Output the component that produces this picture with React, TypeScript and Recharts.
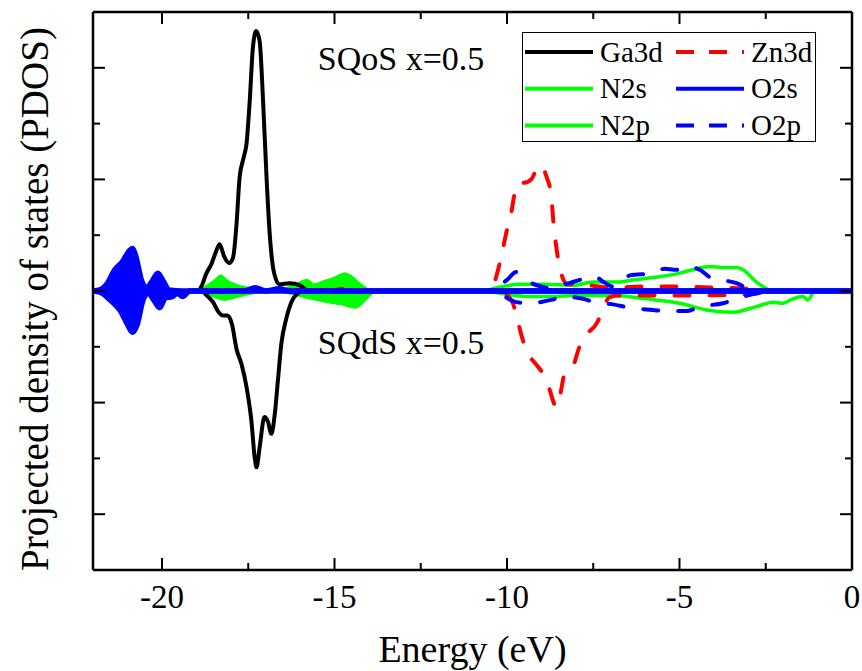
import React from 'react';
import { ComposedChart, Line, Area, XAxis, YAxis, Legend, ReferenceDot } from 'recharts';

type Pt = [number, number];

// [energy (eV), PDOS]; SQoS drawn upward, SQdS mirrored downward
const ga3dUp: Pt[] = [
  [-19.2, 0], [-18.95, 0], [-18.86, 0.04], [-18.71, 0.16], [-18.57, 0.24], [-18.45, 0.34],
  [-18.33, 0.42], [-18.2, 0.31], [-18.05, 0.25], [-17.94, 0.3], [-17.84, 0.6], [-17.75, 1.02],
  [-17.63, 1.2], [-17.55, 1.32], [-17.46, 1.69], [-17.36, 2.2], [-17.27, 2.33], [-17.17, 2.24],
  [-17.07, 1.7], [-16.97, 1.02], [-16.88, 0.52], [-16.75, 0.16], [-16.6, 0.06], [-16.3, 0.07],
  [-16.0, 0.05], [-15.8, 0.01], [-15, 0], [0, 0],
];
const ga3dDown: Pt[] = [
  [-19.2, 0], [-18.85, 0], [-18.7, -0.04], [-18.52, -0.1], [-18.38, -0.18], [-18.23, -0.22],
  [-18.1, -0.22], [-17.97, -0.3], [-17.84, -0.52], [-17.7, -0.65], [-17.55, -0.86], [-17.41, -1.16],
  [-17.31, -1.5], [-17.26, -1.58], [-17.17, -1.4], [-17.03, -1.13], [-16.93, -1.17], [-16.83, -1.28],
  [-16.73, -1.1], [-16.64, -0.8], [-16.54, -0.47], [-16.4, -0.25], [-16.25, -0.1], [-16.1, -0.03],
  [-15.9, 0], [0, 0],
];
const zn3dUp: Pt[] = [
  [-15.2, 0], [-14.6, 0.02], [-14.2, 0], [-10.6, 0], [-10.42, 0.04], [-10.21, 0.25], [-10.0, 0.55],
  [-9.86, 0.73], [-9.77, 0.89], [-9.63, 0.98], [-9.5, 0.97], [-9.3, 1.0], [-9.11, 1.11], [-9.03, 1.13],
  [-8.85, 1.02], [-8.72, 0.86], [-8.65, 0.6], [-8.56, 0.37], [-8.45, 0.18], [-8.25, 0.06], [-7.9, 0.06],
  [-7.0, 0.03], [-6.0, 0.04], [-5.0, 0.04], [-4.0, 0.03], [-3.0, 0.02], [-2.4, 0], [0, 0],
];
const zn3dDown: Pt[] = [
  [-11, 0], [-10.5, 0], [-10.1, -0.02], [-9.83, -0.11], [-9.72, -0.23], [-9.54, -0.44], [-9.39, -0.56],
  [-9.15, -0.66], [-8.96, -0.74], [-8.77, -0.88], [-8.6, -1.03], [-8.55, -1.04], [-8.47, -0.95],
  [-8.33, -0.74], [-8.2, -0.7], [-8.1, -0.68], [-7.9, -0.5], [-7.75, -0.41], [-7.4, -0.29],
  [-7.22, -0.17], [-7.05, -0.06], [-6.8, -0.04], [-5, -0.04], [-3, -0.03], [-2.3, 0], [0, 0],
];
const n2sUp: Pt[] = [
  [-22, 0], [-19.0, 0], [-18.8, 0.03], [-18.5, 0.09], [-18.3, 0.14], [-18.1, 0.09], [-17.8, 0.05],
  [-17.5, 0.03], [-17.0, 0.01], [-16.6, 0], [-16.3, 0.04], [-16.0, 0.08], [-15.8, 0.1], [-15.6, 0.06],
  [-15.3, 0.09], [-15.0, 0.12], [-14.7, 0.16], [-14.5, 0.13], [-14.2, 0.05], [-13.9, 0], [0, 0],
];
const n2sDown: Pt[] = [
  [-22, 0], [-19, 0], [-18.8, -0.02], [-18.5, -0.05], [-18.2, -0.08], [-17.9, -0.06], [-17.5, -0.03],
  [-17, -0.01], [-16.5, -0.01], [-16.2, -0.03], [-15.8, -0.06], [-15.5, -0.08], [-15.2, -0.1],
  [-14.8, -0.12], [-14.4, -0.15], [-14.1, -0.08], [-13.8, 0], [0, 0],
];
const n2pUp: Pt[] = [
  [-11, 0], [-10.7, 0], [-10.4, 0.02], [-9.63, 0.06], [-8.86, 0.06], [-8.09, 0.05], [-7.5, 0.08],
  [-6.8, 0.08], [-6.3, 0.1], [-5.77, 0.12], [-4.99, 0.16], [-4.51, 0.2], [-4.12, 0.22], [-3.7, 0.21],
  [-3.35, 0.21], [-3.16, 0.19], [-2.77, 0.08], [-2.58, 0.04], [-2.4, 0.01], [0, 0],
];
const n2pDown: Pt[] = [
  [-11, 0], [-10.6, 0], [-10.4, -0.01], [-9.34, -0.05], [-8.76, -0.05], [-8.0, -0.04], [-6.93, -0.04],
  [-5.96, -0.07], [-4.99, -0.11], [-4.22, -0.17], [-3.45, -0.19], [-2.77, -0.14], [-2.29, -0.1],
  [-2.0, -0.11], [-1.71, -0.07], [-1.42, -0.05], [-1.28, -0.08], [-1.08, 0], [0, 0],
];
const o2sUp: Pt[] = [
  [-22, 0], [-21.8, 0.01], [-21.6, 0.06], [-21.37, 0.19], [-21.15, 0.26], [-20.95, 0.36], [-20.86, 0.38],
  [-20.75, 0.3], [-20.6, 0.1], [-20.45, 0.03], [-20.3, 0.08], [-20.12, 0.16], [-19.95, 0.08],
  [-19.8, 0.01], [-19.4, 0], [-17.6, 0], [-17.3, 0.03], [-17.0, 0], [-16.6, 0.02], [-16.3, 0], [0, 0],
];
const o2sDown: Pt[] = [
  [-22, 0], [-21.8, -0.01], [-21.5, -0.08], [-21.2, -0.18], [-21.0, -0.3], [-20.86, -0.37], [-20.72, -0.3],
  [-20.55, -0.08], [-20.4, -0.02], [-20.2, -0.1], [-20.07, -0.15], [-19.9, -0.06], [-19.7, -0.05],
  [-19.55, -0.02], [-19.4, -0.05], [-19.2, 0], [0, 0],
];
const o2pUp: Pt[] = [
  [-11, 0], [-10.6, 0], [-10.3, 0.03], [-10.0, 0.1], [-9.73, 0.17], [-9.5, 0.12], [-9.34, 0.08],
  [-9.0, 0.04], [-8.67, 0.02], [-8.47, 0.05], [-8.2, 0.07], [-7.89, 0.1], [-7.46, 0.13], [-7.2, 0.08],
  [-6.93, 0.04], [-6.7, 0.08], [-6.44, 0.14], [-5.77, 0.16], [-5.43, 0.2], [-5.1, 0.19], [-4.8, 0.22],
  [-4.41, 0.19], [-4.1, 0.12], [-3.79, 0.1], [-3.35, 0.07], [-3.0, 0.02], [-2.6, 0], [0, 0],
];
const o2pDown: Pt[] = [
  [-11, 0], [-10.6, 0], [-10.2, -0.03], [-9.73, -0.1], [-9.39, -0.11], [-8.72, -0.08], [-8.38, -0.05],
  [-7.8, -0.07], [-7.46, -0.1], [-6.93, -0.12], [-6.44, -0.15], [-5.77, -0.17], [-5.38, -0.18],
  [-4.8, -0.18], [-4.41, -0.14], [-3.74, -0.11], [-3.35, -0.07], [-2.9, -0.03], [-2.6, -0.01], [-2.3, 0], [0, 0],
];

const xTicks = [-20, -17.5, -15, -12.5, -10, -7.5, -5, -2.5, 0];
const yTicks = [-2, -1.5, -1, -0.5, 0, 0.5, 1, 1.5, 2];

const legendItems = [
  { name: 'Ga3d', color: '#000000', dash: '' },
  { name: 'Zn3d', color: '#ff0000', dash: '18 15' },
  { name: 'N2s', color: '#00ff00', dash: '' },
  { name: 'O2s', color: '#0000ff', dash: '' },
  { name: 'N2p', color: '#00ff00', dash: '' },
  { name: 'O2p', color: '#0000ff', dash: '18 15' },
];

const FONT = 'Liberation Serif, Times New Roman, serif';
const rows = (pts: Pt[]) => pts.map(([e, v]) => ({ e, v }));

// inward ticks on all four sides, labels only on the bottom majors
const Tick = (props: any) => {
  const { x, y, payload, side } = props;
  const v = payload.value;
  const major = side === 'left' || side === 'right' ? Number.isInteger(v) : Number.isInteger(v / 5);
  const len = major ? 12 : 7;
  let x2 = x;
  let y2 = y;
  if (side === 'bottom') y2 = y - len;
  if (side === 'top') y2 = y + len;
  if (side === 'left') x2 = x + len;
  if (side === 'right') x2 = x - len;
  return (
    <g>
      <line x1={x} y1={y} x2={x2} y2={y2} stroke="#000" strokeWidth={2} />
      {side === 'bottom' && major && (
        <text x={x} y={y + 38} textAnchor="middle" fontSize={33} fontFamily={FONT} fill="#000">
          {String(v)}
        </text>
      )}
    </g>
  );
};

const XTitle = (props: any) => {
  const vb = props.viewBox;
  return (
    <text x={vb.x + vb.width / 2} y={vb.y + 92} textAnchor="middle" fontSize={38} fontFamily={FONT} fill="#000">
      Energy (eV)
    </text>
  );
};

const YTitle = (props: any) => {
  const vb = props.viewBox;
  const cx = vb.x + 48;
  const cy = vb.y + vb.height / 2 + 8;
  return (
    <text x={cx} y={cy} transform={`rotate(-90, ${cx}, ${cy})`} textAnchor="middle" fontSize={39} fontFamily={FONT} fill="#000">
      Projected density of states (PDOS)
    </text>
  );
};

const Note = (props: any) => {
  const vb = props.viewBox;
  return (
    <text x={vb.x + vb.width / 2} y={vb.y + vb.height / 2} textAnchor="middle" fontSize={34} fontFamily={FONT} fill="#000">
      {props.text}
    </text>
  );
};

const LegendBox = () => (
  <svg width={296} height={112} style={{ display: 'block' }}>
    <rect x={0.5} y={0.5} width={293} height={109} fill="#fff" stroke="#000" strokeWidth={1} />
    {legendItems.map((it, i) => {
      const col = i % 2;
      const row = Math.floor(i / 2);
      const lx = col === 0 ? 3 : 154;
      const ly = 20 + row * 36.8;
      return (
        <g key={it.name}>
          <line x1={lx} y1={ly} x2={lx + 68} y2={ly} stroke={it.color} strokeWidth={4}
            strokeDasharray={it.dash || undefined} />
          <text x={col === 0 ? 78 : 229} y={ly + 9.5} fontSize={29} fontFamily={FONT} fill="#000">
            {it.name}
          </text>
        </g>
      );
    })}
  </svg>
);

export default function App() {
  const dashed = '15 20';
  return (
    <div style={{ position: 'absolute', left: 0, top: 0, background: '#fff' }}>
      <ComposedChart width={862} height={671} margin={{ top: 11, right: 0, bottom: 0, left: 0 }}>
        <XAxis dataKey="e" type="number" domain={[-22, 0]} allowDataOverflow ticks={xTicks} interval={0}
          height={101} tickSize={0} tickMargin={0} tickLine={false}
          axisLine={{ stroke: '#000', strokeWidth: 2.5 }}
          tick={(p: any) => <Tick {...p} side="bottom" />}
          label={<XTitle />} />
        <XAxis xAxisId="top" orientation="top" dataKey="e" type="number" domain={[-22, 0]} allowDataOverflow
          ticks={xTicks} interval={0} height={1} tickSize={0} tickMargin={0} tickLine={false}
          axisLine={{ stroke: '#000', strokeWidth: 2.5 }}
          tick={(p: any) => <Tick {...p} side="top" />} />
        <YAxis type="number" domain={[-2.5, 2.5]} allowDataOverflow ticks={yTicks} interval={0} width={93}
          tickSize={0} tickMargin={0} tickLine={false} axisLine={{ stroke: '#000', strokeWidth: 2.5 }}
          tick={(p: any) => <Tick {...p} side="left" />}
          label={<YTitle />} />
        <YAxis yAxisId="right" orientation="right" type="number" domain={[-2.5, 2.5]} allowDataOverflow
          ticks={yTicks} interval={0} width={10} tickSize={0} tickMargin={0} tickLine={false}
          axisLine={{ stroke: '#000', strokeWidth: 2.5 }}
          tick={(p: any) => <Tick {...p} side="right" />} />

        {/* N2s and O2s bands are filled; O2s outline goes on top as its own lines */}
        <Area data={rows(n2sUp)} dataKey="v" type="monotone" baseValue={0} stroke="#00ff00" strokeWidth={2}
          fill="#00ff00" fillOpacity={1} isAnimationActive={false} legendType="none" />
        <Area data={rows(n2sDown)} dataKey="v" type="monotone" baseValue={0} stroke="#00ff00" strokeWidth={2}
          fill="#00ff00" fillOpacity={1} isAnimationActive={false} legendType="none" />
        <Area data={rows(o2sUp)} dataKey="v" type="monotone" baseValue={0} stroke="none"
          fill="#0000ff" fillOpacity={1} isAnimationActive={false} legendType="none" />
        <Area data={rows(o2sDown)} dataKey="v" type="monotone" baseValue={0} stroke="none"
          fill="#0000ff" fillOpacity={1} isAnimationActive={false} legendType="none" />

        <Line data={rows(n2pUp)} dataKey="v" type="monotone" stroke="#00ff00" strokeWidth={3.5} dot={false}
          isAnimationActive={false} legendType="none" />
        <Line data={rows(n2pDown)} dataKey="v" type="monotone" stroke="#00ff00" strokeWidth={3.5} dot={false}
          isAnimationActive={false} legendType="none" />
        <Line data={rows(zn3dUp)} dataKey="v" type="monotone" stroke="#ff0000" strokeWidth={4} dot={false}
          strokeDasharray={dashed} strokeLinecap="round" isAnimationActive={false} legendType="none" />
        <Line data={rows(zn3dDown)} dataKey="v" type="monotone" stroke="#ff0000" strokeWidth={4} dot={false}
          strokeDasharray={dashed} strokeLinecap="round" isAnimationActive={false} legendType="none" />
        <Line data={rows(o2pUp)} dataKey="v" type="monotone" stroke="#0000ff" strokeWidth={4} dot={false}
          strokeDasharray={dashed} strokeLinecap="round" isAnimationActive={false} legendType="none" />
        <Line data={rows(o2pDown)} dataKey="v" type="monotone" stroke="#0000ff" strokeWidth={4} dot={false}
          strokeDasharray={dashed} strokeLinecap="round" isAnimationActive={false} legendType="none" />
        <Line data={rows(ga3dUp)} dataKey="v" type="monotone" stroke="#000000" strokeWidth={4} dot={false}
          strokeLinejoin="round" isAnimationActive={false} legendType="none" />
        <Line data={rows(ga3dDown)} dataKey="v" type="monotone" stroke="#000000" strokeWidth={4} dot={false}
          strokeLinejoin="round" isAnimationActive={false} legendType="none" />
        <Line data={rows(o2sUp)} dataKey="v" type="monotone" stroke="#0000ff" strokeWidth={5.5} dot={false}
          isAnimationActive={false} legendType="none" zIndex={450} />
        <Line data={rows(o2sDown)} dataKey="v" type="monotone" stroke="#0000ff" strokeWidth={5.5} dot={false}
          isAnimationActive={false} legendType="none" zIndex={450} />

        <ReferenceDot x={-13.07} y={1.98} r={0} fill="none" stroke="none" ifOverflow="visible"
          label={<Note text="SQoS x=0.5" />} />
        <ReferenceDot x={-13.07} y={-0.565} r={0} fill="none" stroke="none" ifOverflow="visible"
          label={<Note text="SQdS x=0.5" />} />

        <Legend layout="horizontal" verticalAlign="middle" align="center" content={() => <LegendBox />}
          wrapperStyle={{ left: 522, top: 32, width: 296, height: 112 }} />
      </ComposedChart>
    </div>
  );
}
